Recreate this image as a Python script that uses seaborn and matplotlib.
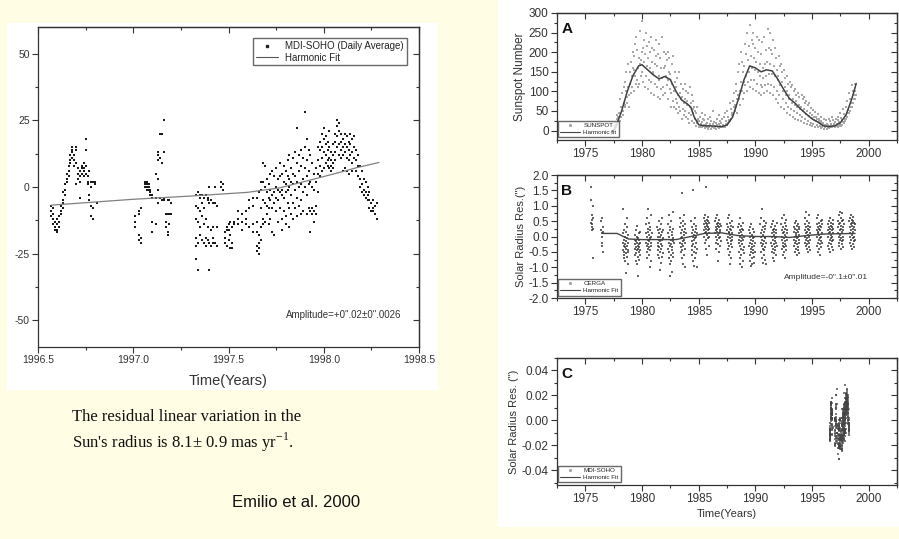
import matplotlib
matplotlib.use("Agg")
import matplotlib.pyplot as plt
import seaborn as sns
import pandas as pd
from matplotlib.ticker import MultipleLocator, FormatStrFormatter
from matplotlib.lines import Line2D
from matplotlib.patches import Rectangle

# ---------------- MDI-SOHO daily averages (mas), grouped by date ----------------
soho_summer_1996 = [
    (1996.57, [-7, -9, -11]), (1996.58, [-8, -10, -12, -14]), (1996.59, [-13, -15, -16]),
    (1996.60, [-14, -16, -17, -12]), (1996.61, [-11, -13, -15]), (1996.62, [-9, -10, -7]),
    (1996.63, [-5, -6, -2, -8]), (1996.64, [-1, 1, -3]), (1996.65, [3, 5, 2]),
    (1996.66, [6, 8, 4]), (1996.67, [9, 10, 12]), (1996.68, [13, 15, 11, 14]),
    (1996.69, [12, 10, 8]), (1996.70, [14, 15, 9, 1]), (1996.71, [7, 5, 3]),
    (1996.72, [6, 4, 2, -4]), (1996.73, [8, 7, 5]), (1996.74, [9, 6, 4, 7]),
    (1996.75, [18, 14, 8, 5]), (1996.76, [2, 4, 1]), (1996.77, [6, -3, -5]),
    (1996.78, [2, 0, -11, -7]), (1996.79, [2, -12, -8]), (1996.80, [2, 1]), (1996.81, [-6]),
]
soho_winter_1997 = [
    (1997.01, [-11, -13, -15]), (1997.03, [-18, -20, -9, -10]), (1997.04, [-19, -21, -8]),
    (1997.06, [2, 1, 0]), (1997.07, [1, 2, -1, 0]), (1997.08, [1, -1, 0]),
    (1997.09, [-1, -2, -3]), (1997.10, [-4, -3, -13, -17]), (1997.12, [-4, -14, 5]),
    (1997.13, [10, 12, 13, 3, -1, -6]), (1997.14, [20, 11, -4]), (1997.15, [20, 9, -5]),
    (1997.16, [25, 13, -4, -5]), (1997.17, [-10, -13, -15]), (1997.18, [-10, -17, -18, -5]),
    (1997.19, [-10, -14, -5]), (1997.20, [-10, -6]),
]
soho_spring_1997 = [
    (1997.33, [-3, -7, -12, -19, -22, -27]), (1997.34, [-2, -8, -13, -21, -31]),
    (1997.35, [-3, -4, -9, -15, -18]), (1997.36, [-3, -6, -11, -20]),
    (1997.37, [-4, -8, -14, -21]), (1997.38, [-3, -12, -19, -22]),
    (1997.39, [-4, -5, -15, -20]), (1997.40, [-6, -21, -31, 0]),
    (1997.41, [-5, -16, -22]), (1997.42, [-6, -15, -21, -19]),
    (1997.43, [-6, 0, -21]), (1997.44, [-7, -22, -15]), (1997.46, [2, 0]),
    (1997.47, [1, -1]), (1997.48, [-17, -19, -21]), (1997.49, [-15, -16, -22]),
    (1997.50, [-14, -16, -20]), (1997.51, [-13, -18, -23]), (1997.52, [-15, -21, -23]),
    (1997.53, [-13, -14]), (1997.55, [-12, -14, -9]), (1997.57, [-13, -10, -16]),
    (1997.59, [-9, -12, -14]), (1997.61, [-5, -8, -15]), (1997.63, [-4, -7, -17, -14]),
]
soho_late_1997 = [
    (1997.65, [-22, -24, -17, -13, -4]), (1997.66, [-21, -23, -25, -18, -2]),
    (1997.67, [-20, -15, -8, -1, 2]), (1997.68, [9, 2, -5, -12, -14]),
    (1997.69, [8, 0, -6, -13]), (1997.70, [3, -2, -7, -10]), (1997.71, [1, -4, -8, -14]),
    (1997.72, [5, -1, -5, -12]), (1997.73, [6, -3, -8, -17]), (1997.74, [4, -2, -6, -18]),
    (1997.75, [7, 0, -4, -9]), (1997.76, [3, -1, -5, -13]), (1997.77, [9, 4, -2, -8]),
    (1997.78, [5, -1, -3, -12, -16]), (1997.79, [8, 2, -4, -9]),
    (1997.80, [6, 1, -2, -11, -14]), (1997.81, [10, 4, -1, -6]),
    (1997.82, [12, 3, 0, -8, -15]), (1997.83, [7, 2, -3, -10]),
    (1997.84, [11, 5, 1, -6, -12]), (1997.85, [13, 4, -1, -8]),
    (1997.86, [22, 9, 2, -4, -11]), (1997.87, [12, 6, 0, -7]),
    (1997.88, [14, 8, 1, -5, -10]), (1997.89, [11, 3, -2, -9]),
    (1997.90, [28, 15, 7, 0]), (1997.91, [18, 10, 4, -3, -10]),
    (1997.92, [14, 6, 1, -8]), (1997.93, [12, 2, -9, -17]),
    (1997.94, [9, 0, -8, -10]), (1997.95, [5, -1, -9, -13]), (1997.96, [7, 2, -7, -10]),
]
soho_early_1998 = [
    (1997.97, [15, 10, 5, -2]), (1997.98, [17, 14, 8, 4]), (1997.99, [20, 15, 11, 6]),
    (1998.00, [22, 18, 13, 7]), (1998.01, [19, 16, 12, 9]), (1998.02, [17, 14, 10, 8]),
    (1998.03, [21, 15, 11, 7]), (1998.04, [13, 10, 8, 6]), (1998.05, [16, 12, 9, 7]),
    (1998.06, [20, 17, 13, 10]), (1998.07, [25, 23, 19, 15]), (1998.08, [24, 21, 16, 12]),
    (1998.09, [20, 17, 14, 11]), (1998.10, [18, 15, 12, 6]), (1998.11, [20, 16, 13, 7]),
    (1998.12, [19, 15, 11, 6]), (1998.13, [17, 14, 10, 5]), (1998.14, [20, 16, 12]),
    (1998.15, [18, 13, 9, 6]), (1998.16, [19, 15, 11]), (1998.17, [14, 10, 6]),
    (1998.18, [12, 8, 4]), (1998.19, [8, 3, 0]), (1998.20, [6, 1, -2]),
    (1998.21, [3, -1, -3]), (1998.22, [2, -2, -4]), (1998.23, [0, -3, -5]),
    (1998.24, [-2, -5, -8]), (1998.25, [-6, -9]), (1998.26, [-5, -8, -9]),
    (1998.27, [-7, -10]), (1998.28, [-6, -12]),
]
soho_fit_t = [1996.57, 1997.0, 1997.3, 1997.6, 1997.77, 1997.95, 1998.1, 1998.17, 1998.29]
soho_fit_mas = [-6.8, -4.6, -3.4, -2.0, -0.3, 3.0, 5.8, 7.2, 9.2]

# ---------------- Sunspot numbers, two readings per month ----------------
SUNSPOT_STEP = 1 / 24
sunspot_runs = [
    (1977.5, [5, 12, 3, 20, 15, 8, 30, 18, 40, 25, 35, 22]),
    (1978.0, [45, 25, 80, 35, 60, 50, 95, 50, 40, 110, 70, 65,
              125, 60, 100, 150, 85, 70, 170, 110, 90, 60, 150, 120]),
    (1979.0, [175, 95, 140, 110, 200, 160, 100, 190, 155, 140, 220, 120,
              240, 130, 205, 160, 110, 185, 120, 255, 170, 180, 140, 200]),
    (1980.0, [280, 150, 125, 210, 175, 230, 110, 195, 250, 140, 215, 165,
              185, 105, 225, 130, 200, 160, 240, 125, 95, 175, 210, 150]),
    (1981.0, [145, 205, 90, 170, 120, 190, 230, 110, 165, 85, 195, 140,
              130, 220, 80, 185, 105, 160, 135, 240, 110, 90, 200, 160]),
    (1982.0, [165, 95, 140, 195, 115, 180, 200, 130, 80, 150, 185, 105,
              145, 60, 95, 170, 120, 75, 190, 100, 60, 150, 125, 80]),
    (1983.0, [110, 55, 135, 70, 45, 90, 150, 60, 95, 50, 120, 80,
              85, 30, 105, 55, 70, 40, 120, 50, 80, 35, 100, 65]),
    (1984.0, [75, 30, 95, 45, 20, 60, 110, 40, 70, 25, 90, 55,
              45, 75, 20, 60, 30, 50, 12, 45, 60, 20, 30, 25]),
    (1985.0, [25, 8, 35, 10, 18, 15, 45, 8, 22, 30, 12, 15,
              28, 6, 40, 12, 18, 10, 20, 5, 30, 12, 10, 16]),
    (1986.0, [15, 35, 5, 25, 10, 8, 50, 16, 6, 22, 12, 10,
              20, 5, 30, 14, 9, 10, 40, 18, 6, 25, 12, 9]),
    (1987.0, [20, 8, 30, 14, 15, 10, 35, 10, 45, 18, 25, 14,
              50, 15, 35, 20, 25, 28, 70, 25, 55, 30, 40, 45]),
    (1988.0, [75, 40, 95, 60, 50, 65, 120, 60, 100, 45, 80, 90,
              150, 80, 170, 100, 65, 125, 200, 100, 175, 80, 150, 125]),
    (1989.0, [165, 95, 220, 115, 195, 140, 250, 100, 180, 125, 215, 150,
              270, 110, 190, 130, 230, 160, 250, 105, 220, 130, 185, 155]),
    (1990.0, [210, 100, 175, 240, 120, 150, 200, 95, 230, 140, 170, 115,
              195, 90, 225, 110, 160, 135, 240, 95, 170, 115, 205, 140]),
    (1991.0, [175, 100, 260, 120, 210, 145, 250, 95, 170, 205, 115, 145,
              195, 90, 230, 110, 165, 140, 210, 80, 185, 100, 155, 130]),
    (1992.0, [140, 70, 190, 90, 165, 115, 170, 60, 125, 150, 80, 100,
              155, 55, 110, 135, 70, 90, 140, 45, 100, 120, 60, 80]),
    (1993.0, [90, 40, 125, 55, 110, 70, 115, 35, 80, 100, 50, 65,
              105, 30, 75, 90, 45, 60, 95, 28, 65, 85, 40, 55]),
    (1994.0, [60, 25, 90, 35, 80, 50, 85, 20, 55, 70, 30, 42,
              75, 18, 50, 65, 25, 38, 70, 15, 45, 58, 20, 32]),
    (1995.0, [40, 12, 52, 18, 35, 28, 48, 10, 35, 24, 30, 15,
              42, 8, 30, 25, 12, 20, 35, 6, 25, 20, 10, 16]),
    (1996.0, [20, 5, 30, 8, 14, 12, 26, 4, 18, 8, 15, 12,
              30, 7, 24, 10, 16, 11, 35, 8, 26, 12, 18, 13]),
    (1997.0, [22, 10, 30, 12, 15, 18, 35, 10, 26, 12, 22, 18,
              45, 12, 32, 15, 28, 22, 55, 20, 42, 25, 30, 38]),
    (1998.0, [60, 30, 75, 35, 45, 52, 95, 45, 80, 50, 60, 70,
              115, 60, 100, 70, 80, 90, 120, 80, 100, 90]),
]
sunspot_fit_t = [1977.3, 1977.7, 1978.2, 1978.7, 1979.2, 1979.7, 1980.0, 1980.5, 1981.0, 1981.5,
                 1982.0, 1982.5, 1983.0, 1983.5, 1984.0, 1984.3, 1984.6, 1985.0, 1985.5, 1986.0,
                 1986.5, 1987.0, 1987.5, 1988.0, 1988.5, 1989.0, 1989.5, 1990.0, 1990.5, 1991.0,
                 1991.5, 1992.0, 1992.5, 1993.0, 1993.5, 1994.0, 1994.5, 1995.0, 1995.5, 1996.0,
                 1996.5, 1997.0, 1997.5, 1998.0, 1998.5, 1998.9]
sunspot_fit_n = [-5, 10, 50, 100, 140, 165, 168, 155, 142, 132,
                 138, 130, 100, 78, 68, 60, 35, 15, 12, 12,
                 11, 10, 14, 35, 80, 130, 165, 160, 150, 155,
                 152, 130, 105, 82, 70, 55, 42, 30, 22, 12,
                 10, 12, 20, 40, 80, 120]

# ---------------- CERGA astrolabe residuals (0.01 arcsec), nightly per season ----------------
CERGA_STEP = 0.017
cerga_seasons = [
    (1975.50, [160, 120, 45, 70, 30, 20, 55, 40, 100, -70, 25, 60]),
    (1976.40, [50, 20, 0, -30, 60, 10, -20, -50, 30, 15]),
    (1978.30, [90, -20, -45, 10, -60, -30, 20, -70, -10, -50, 40, -35, -80, 0, -25,
               -55, 15, -40, -120, -15, 30, -65, -5, -30, 60, -45, -90, 5, -20, -50]),
    (1979.35, [-10, -40, 5, -60, -25, -80, 20, -35, -15, -55, 0, -45, -90, -20, 35,
               -30, -65, -5, -130, -40, 10, -25, -50, -75, -10, -35, 15, -60, -20, -45]),
    (1980.35, [40, -20, 10, -50, 60, -30, 0, -70, 25, -10, -40, 90, -25, 15, -60,
               5, -35, 45, -15, -100, 30, -5, -45, 20, -80, 0, -30, 70, -20, 10]),
    (1981.35, [30, -30, 0, -60, 20, -20, -45, 50, -10, -70, 10, -35, -110, 25, -15,
               -50, 0, -85, 40, -25, 5, -40, 60, -10, -65, 15, -30, -5, -55, 20]),
    (1982.30, [40, -40, 10, -70, -20, 70, -50, 0, -90, 20, -30, -130, 30, -10, -60,
               50, -25, -80, 5, -45, -115, 15, -35, 80, -15, -55, 25, -5, -65, -20]),
    (1983.35, [60, -20, 30, -50, 10, -35, 45, -5, -70, 20, -25, 140, 0, -45, 35,
               -15, -90, 50, -30, 15, -60, 5, -10, 70, -40, 25, -100, 40, -20, 10]),
    (1984.35, [50, -30, 10, -60, 30, -15, -45, 0, -80, 20, 150, -25, 5, -50, 40,
               -10, -95, 15, -35, 60, -5, -70, 25, -20, 0, -55, 35, -40, 10, -100]),
    (1985.45, [60, 20, 40, 0, 50, -20, 30, 10, 70, -40, 45, 15, 160, 25, -10,
               55, 35, 5, -60, 40, 20, 65, -5, 30, 50, 10, -30, 45, 25, 0]),
    (1986.45, [50, 10, 30, -20, 60, 0, 20, -40, 40, 15, -10, 70, 25, -80, 35,
               5, -25, 45, 10, -50, 30, 55, -5, 20, -30, 40, 0, 15, -15, 35]),
    (1987.50, [40, -10, 20, -40, 60, 0, -20, 30, -60, 10, 70, -30, 15, -90, 25,
               -5, 45, -50, 5, -15, 35, -70, 20, -25, 50, 0, -35, 10, -10, 30]),
    (1988.50, [30, -20, 10, -50, 40, -10, -70, 20, -30, 0, -90, 60, -40, 15, -15,
               -60, 35, -5, -100, 25, -25, 5, -45, 45, -10, -80, 20, -35, 0, -55]),
    (1989.45, [20, -30, 0, -60, 30, -20, -80, 10, -40, -95, -10, -50, 40, -25, -70,
               5, -35, -90, -15, -55, 25, -5, -45, -85, 15, -30, -65, 0, -20, -50]),
    (1990.45, [40, -20, 10, -50, 60, 0, -30, 90, -70, 20, -10, -40, 30, -85, 5,
               -25, 50, -60, 15, -15, -45, 35, -5, -75, 25, -35, 0, 45, -20, -90]),
    (1991.40, [30, -20, 10, -50, 0, -30, 40, -70, 20, -10, -40, 50, -80, 5, -25,
               25, -55, 15, -15, -45, 35, -5, -35, 0, -60, 20, -20, 10, -30, 45]),
    (1992.30, [40, -10, 20, -40, 60, 0, -30, 30, -60, 10, -20, 70, -50, 15, -5,
               -35, 45, -70, 5, -25, 25, -15, 35, -45, 0, 55, -30, 10, -10, 20]),
    (1993.40, [30, -10, 15, -30, 45, 0, -20, 25, -50, 10, -40, 50, -15, 5, -60,
               35, -25, 20, -5, -35, 40, -45, 15, 0, -20, 30, -10, -55, 25, 5]),
    (1994.35, [40, 0, 20, -20, 60, 10, -30, 30, -10, 80, -40, 15, -5, 50, -25,
               25, 5, -50, 35, -15, 45, 0, -35, 20, 70, -20, 10, -10, 30, -45]),
    (1995.40, [40, 0, 20, -30, 60, 10, -20, 30, -50, 15, 70, -10, 25, -40, 5,
               45, -25, 35, -60, 20, -5, 50, -15, 30, 0, -35, 40, 10, -20, 55]),
    (1996.40, [40, 0, 20, -30, 50, 10, -20, 30, -40, 15, 60, -10, 25, -50, 5,
               35, -25, 45, -5, 20, -35, 30, 0, -15, 55, 10, -45, 25, -10, 40]),
    (1997.30, [50, 10, 30, -20, 70, 0, 40, -30, 20, 80, -10, 45, 5, -40, 35,
               60, -5, 25, -25, 50, 15, 75, -15, 30, 0, -35, 55, 20, -10, 40]),
    (1998.30, [50, 10, 30, -20, 60, 0, 40, -30, 20, 70, -10, 45, 5, -40, 35,
               55, -5, 25, -25, 50, 15, 65, -15, 30, 0, -35, 45, 20, -10, 40]),
]
cerga_fit_t = [1976.5, 1977.8, 1978.8, 1980.0, 1983.0, 1984.3, 1985.5, 1987.0, 1988.5,
               1990.0, 1991.5, 1993.0, 1994.5, 1996.0, 1998.8]
cerga_fit_arcsec = [0.1, 0.1, -0.08, -0.1, -0.1, 0.0, 0.1, 0.12, 0.03,
                    0.0, 0.0, -0.03, 0.03, 0.08, 0.1]

MAS_PER_ARCSEC = 1000.0
CENTI_PER_ARCSEC = 100.0


def expand(groups):
    t, v = [], []
    for ti, vals in groups:
        for val in vals:
            t.append(ti)
            v.append(val)
    return pd.DataFrame({"t": t, "v": v})


def sampled(runs, step, scale=1.0):
    t, v = [], []
    for start, vals in runs:
        for i, val in enumerate(vals):
            t.append(start + i * step)
            v.append(val / scale)
    return pd.DataFrame({"t": t, "v": v})


soho = pd.concat([expand(g) for g in (soho_summer_1996, soho_winter_1997, soho_spring_1997,
                                       soho_late_1997, soho_early_1998)], ignore_index=True)
soho_arcsec = soho.assign(v=soho["v"] / MAS_PER_ARCSEC)
soho_fit = pd.DataFrame({"t": soho_fit_t, "v": soho_fit_mas})
soho_fit_arcsec = soho_fit.assign(v=soho_fit["v"] / MAS_PER_ARCSEC)
sunspots = sampled(sunspot_runs, SUNSPOT_STEP)
sunspot_fit = pd.DataFrame({"t": sunspot_fit_t, "v": sunspot_fit_n})
cerga = sampled(cerga_seasons, CERGA_STEP, CENTI_PER_ARCSEC)
cerga_fit = pd.DataFrame({"t": cerga_fit_t, "v": cerga_fit_arcsec})

# ---------------- styling ----------------
sns.set_theme(style="ticks")
plt.rcParams.update({
    "font.family": ["Liberation Sans", "DejaVu Sans"],
    "axes.unicode_minus": False,
    "axes.edgecolor": "#333333",
    "axes.linewidth": 0.9,
    "text.color": "#222222",
    "xtick.color": "#333333",
    "ytick.color": "#333333",
})

BG = "#FFFDE3"
INK = "#333333"

fig = plt.figure(figsize=(8.99, 5.39), dpi=100)
fig.patch.set_facecolor(BG)
fig.add_artist(Rectangle((0.0078, 0.2764), 0.4794, 0.6809, transform=fig.transFigure,
                         facecolor="white", edgecolor="none", zorder=-5))
fig.add_artist(Rectangle((0.554, 0.0223), 0.446, 0.9777, transform=fig.transFigure,
                         facecolor="white", edgecolor="none", zorder=-5))


def frame(ax, xmaj, xmin, ymaj, ymin, labelsize):
    ax.xaxis.set_major_locator(MultipleLocator(xmaj))
    ax.xaxis.set_minor_locator(MultipleLocator(xmin))
    ax.yaxis.set_major_locator(MultipleLocator(ymaj))
    ax.yaxis.set_minor_locator(MultipleLocator(ymin))
    ax.tick_params(which="both", direction="out", width=0.8, labelsize=labelsize, pad=2)
    ax.tick_params(which="major", length=4)
    ax.tick_params(which="minor", length=2.5)
    for s in ax.spines.values():
        s.set_visible(True)
    top = ax.secondary_xaxis("top")
    top.xaxis.set_major_locator(MultipleLocator(xmaj))
    top.xaxis.set_minor_locator(MultipleLocator(xmin))
    top.tick_params(which="both", direction="in", labeltop=False, width=0.8)
    top.tick_params(which="major", length=4)
    top.tick_params(which="minor", length=2.5)
    right = ax.secondary_yaxis("right")
    right.yaxis.set_major_locator(MultipleLocator(ymaj))
    right.yaxis.set_minor_locator(MultipleLocator(ymin))
    right.tick_params(which="both", direction="in", labelright=False, width=0.8)
    right.tick_params(which="major", length=4)
    right.tick_params(which="minor", length=2.5)
    ax.set_xlabel("")
    ax.set_ylabel("")


def small_legend(ax, labels, marker_color):
    handles = [Line2D([], [], ls="none", marker="s", ms=1.2, color=marker_color),
               Line2D([], [], color="#444444", lw=0.8)]
    ax.legend(handles, labels, loc="lower left", bbox_to_anchor=(0.003, 0.02),
              fontsize=4.5, frameon=True, fancybox=False, edgecolor="#444444",
              handlelength=3.2, borderpad=0.35, labelspacing=0.25, handletextpad=0.5,
              borderaxespad=0)


# ---------------- left: MDI-SOHO daily averages ----------------
ax0 = fig.add_axes([0.0423, 0.3562, 0.4238, 0.5937])
sns.scatterplot(data=soho, x="t", y="v", ax=ax0, marker="s", s=3.0, color="#1a1a1a",
                linewidth=0, legend=False)
sns.lineplot(data=soho_fit, x="t", y="v", ax=ax0, color="#808080", lw=0.9,
             estimator=None, sort=False)
ax0.set_xlim(1996.5, 1998.5)
ax0.set_ylim(-60, 60)
frame(ax0, 0.5, 0.25, 25, 12.5, 7.5)
ax0.xaxis.set_major_formatter(FormatStrFormatter("%.1f"))
ax0.set_xlabel("Time(Years)", fontsize=10.5, color=INK, labelpad=6)
h0 = [Line2D([], [], ls="none", marker="s", ms=1.8, color="#222222"),
      Line2D([], [], color="#555555", lw=0.8)]
ax0.legend(h0, ["MDI-SOHO (Daily Average)", "Harmonic Fit"], loc="upper right",
           bbox_to_anchor=(0.968, 0.965), fontsize=7, frameon=True, fancybox=False,
           edgecolor="#444444", handlelength=2.2, borderpad=0.3, labelspacing=0.15,
           handletextpad=0.8, borderaxespad=0)
ax0.text(0.955, 0.1, 'Amplitude=+0".02\u00b10".0026', transform=ax0.transAxes,
         ha="right", va="center", fontsize=7, color=INK)

# ---------------- right column ----------------
XL = (1972.5, 2002.5)

axA = fig.add_axes([0.6196, 0.7403, 0.3782, 0.2356])
sns.scatterplot(data=sunspots, x="t", y="v", ax=axA, marker="s", s=1.4, color="#a8a8a8",
                linewidth=0, legend=False)
sns.lineplot(data=sunspot_fit, x="t", y="v", ax=axA, color="#404040", lw=1.1,
             estimator=None, sort=False)
axA.set_xlim(*XL)
axA.set_ylim(-24, 300)
frame(axA, 5, 2.5, 50, 25, 8.5)
axA.set_ylabel("Sunspot Number", fontsize=8.5, color=INK, labelpad=2)
axA.text(0.013, 0.93, "A", transform=axA.transAxes, fontsize=11, fontweight="bold",
         va="top", ha="left", color="#111111")
small_legend(axA, ["SUNSPOT", "Harmonic fit"], "#aaaaaa")

axB = fig.add_axes([0.6196, 0.4471, 0.3782, 0.2282])
sns.scatterplot(data=cerga, x="t", y="v", ax=axB, marker="s", s=4.2, color="#2a2a2a",
                linewidth=0, alpha=0.72, legend=False)
sns.lineplot(data=cerga_fit, x="t", y="v", ax=axB, color="#444444", lw=1.0,
             estimator=None, sort=False)
axB.set_xlim(*XL)
axB.set_ylim(-2, 2)
frame(axB, 5, 2.5, 0.5, 0.25, 8.5)
axB.set_ylabel('Solar Radius Res.(")', fontsize=8, color=INK, labelpad=2)
axB.text(0.013, 0.93, "B", transform=axB.transAxes, fontsize=11, fontweight="bold",
         va="top", ha="left", color="#111111")
small_legend(axB, ["CERGA", "Harmonic Fit"], "#aaaaaa")
axB.text(0.915, 0.17, 'Amplitude=-0".1\u00b10".01', transform=axB.transAxes,
         ha="right", va="center", fontsize=6, color=INK)

axC = fig.add_axes([0.6196, 0.1002, 0.3782, 0.2356])
sns.scatterplot(data=soho_arcsec, x="t", y="v", ax=axC, marker="s", s=2.0, color="#444444",
                linewidth=0, alpha=0.7, legend=False)
sns.lineplot(data=soho_fit_arcsec, x="t", y="v", ax=axC, color="#555555", lw=0.8,
             estimator=None, sort=False)
axC.set_xlim(*XL)
axC.set_ylim(-0.052, 0.05)
frame(axC, 5, 2.5, 0.02, 0.01, 8.5)
axC.set_ylabel('Solar Radius Res. (")', fontsize=8, color=INK, labelpad=2)
axC.set_xlabel("Time(Years)", fontsize=8, color=INK, labelpad=3)
axC.text(0.013, 0.93, "C", transform=axC.transAxes, fontsize=11, fontweight="bold",
         va="top", ha="left", color="#111111")
small_legend(axC, ["MDI-SOHO", "Harmonic Fit"], "#aaaaaa")

# ---------------- captions ----------------
fig.text(0.080, 0.2263, "The residual linear variation in the", fontsize=12,
         family=["Liberation Serif", "DejaVu Serif"], color="#111111", va="center")
fig.text(0.080, 0.180, "Sun's radius is 8.1\u00b1 0.9 mas yr$^{\\mathregular{-1}}$.", fontsize=12,
         family=["Liberation Serif", "DejaVu Serif"], color="#111111", va="center")
fig.text(0.258, 0.0668, "Emilio et al. 2000", fontsize=12, color="#111111", va="center")

fig.savefig("out.png", dpi=100, facecolor=BG)
